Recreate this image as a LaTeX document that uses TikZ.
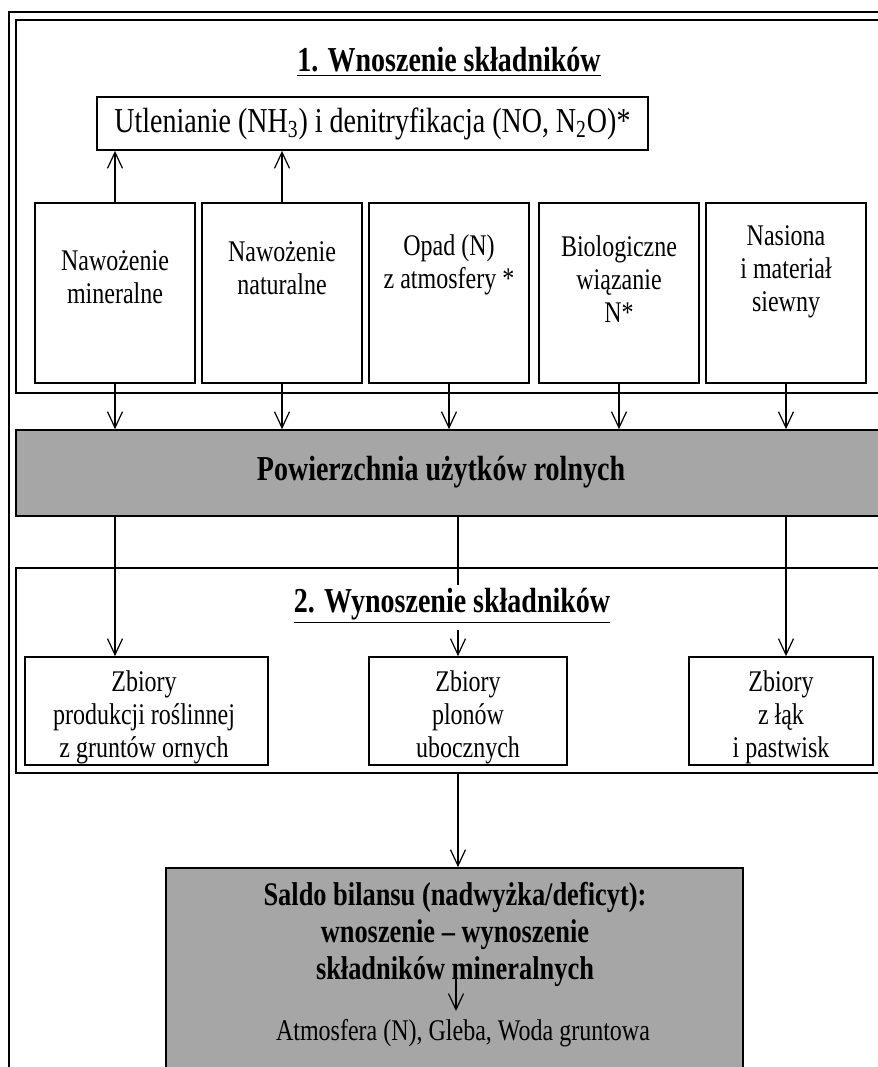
\documentclass[tikz,border=0pt]{standalone}
\usepackage{fontspec}
\setmainfont{Liberation Serif}[FakeStretch=0.8]
\usepackage{tikz}
\usetikzlibrary{positioning,arrows.meta,calc}
\definecolor{fieldgray}{RGB}{166,166,166}
\newcommand{\bodyfont}{\fontsize{15}{16.5}\selectfont}
\newcommand{\headfont}{\fontsize{17.5}{19}\selectfont\bfseries}
\newcommand{\saldofont}{\fontsize{16.5}{18.5}\selectfont\bfseries}
\tikzset{
  outerline/.style={line width=1pt},
  section/.style={draw, line width=1.2pt, minimum width=442pt, inner sep=0pt},
  inbox/.style={draw, line width=0.9pt, minimum width=80pt, minimum height=90pt, inner sep=0pt},
  outbox/.style={draw, line width=0.9pt, minimum height=54pt, inner sep=0pt},
  grayblk/.style={draw, line width=0.9pt, fill=fieldgray, inner sep=0pt},
  head/.style={font=\headfont, inner sep=0pt},
  txt/.style={font=\bodyfont, align=center, inner sep=0pt},
  arr/.style={-{Straight Barb[length=8pt,width=7.5pt]}, line width=0.6pt},
  stem/.style={line width=0.6pt}
}

\begin{document}
\begin{tikzpicture}[x=0.5pt, y=-0.5pt]
  \useasboundingbox (0,0) rectangle (878,1067);
  \clip (0,0) rectangle (878,1067);
  \draw[outerline] (9,1090) -- (9,12) -- (900,12);

  % 1. wnoszenie
  \node[section, minimum height=186.5pt] (sec1) at (458,206.5) {};
  \node[head] (tit1) at (449,62) {\underline{1. Wnoszenie składników}};
  \node[draw, line width=0.9pt, minimum width=275.5pt, minimum height=26.5pt,
        font=\fontsize{17.5}{19}\selectfont] (ox) at (372.5,123.5)
        {Utlenianie (NH\textsubscript{3}) i denitryfikacja (NO, N\textsubscript{2}O)*};
  \foreach \i/\x in {1/115,2/282,3/449,4/619,5/786}
    \node[inbox] (in\i) at (\x,293) {};
  \node[txt] (t1) at (115,277) {Nawożenie\\mineralne};
  \node[txt] (t2) at (282,268) {Nawożenie\\naturalne};
  \node[txt] (t3) at (449,265) {Opad (N)\\z atmosfery *};
  \node[txt] (t4) at (619,279) {Biologiczne\\wiązanie\\N*};
  \node[txt] (t5) at (786,272) {Nasiona\\i materiał\\siewny};
  \draw[arr] (in1.north) -- (in1.north |- ox.south);
  \draw[arr] (in2.north) -- (in2.north |- ox.south);

  \node[grayblk, minimum width=442pt, minimum height=43pt] (pow) at (458,473) {};
  \node[head] (powtxt) at (441,472) {Powierzchnia użytków rolnych};
  \foreach \i in {1,...,5}
    \draw[arr] (in\i.south) -- (in\i.south |- pow.north);

  % 2. wynoszenie
  \node[section, minimum height=102.5pt] (sec2) at (458,670.5) {};
  \node[head] (tit2) at (452,606) {\underline{2. Wynoszenie składników}};
  \node[outbox, minimum width=121.5pt] (outA) at (146.5,711) {};
  \node[outbox, minimum width=99pt] (outB) at (468,711) {};
  \node[outbox, minimum width=92pt] (outC) at (781,711) {};
  \node[txt] (tA) at (144,717) {Zbiory\\produkcji roślinnej\\z gruntów ornych};
  \node[txt] (tB) at (468,717) {Zbiory\\plonów\\ubocznych};
  \node[txt] (tC) at (781,717) {Zbiory\\z łąk\\i pastwisk};
  \coordinate (gapT) at (458,585);
  \coordinate (gapB) at (458,630);
  \draw[arr] (in1.south |- pow.south) -- (in1.south |- outA.north);
  \draw[stem] (pow.south) -- (gapT);
  \draw[arr] (gapB) -- (gapB |- outB.north);
  \draw[arr] (in5.south |- pow.south) -- (in5.south |- outC.north);

  % saldo
  \node[grayblk, minimum width=288.5pt, minimum height=116pt] (saldo) at (454.5,984) {};
  \node[txt, font=\saldofont] (saltxt) at (455,934)
        {Saldo bilansu (nadwyżka/deficyt):\\wnoszenie – wynoszenie\\składników mineralnych};
  \node[txt] (dest) at (463,1033) {Atmosfera (N), Gleba, Woda gruntowa};
  \coordinate (salT) at (456,968);
  \coordinate (salB) at (456,1011);
  \draw[arr] (sec2.south) -- (sec2.south |- saldo.north);
  \draw[arr] (salT) -- (salB);
\end{tikzpicture}
\end{document}
